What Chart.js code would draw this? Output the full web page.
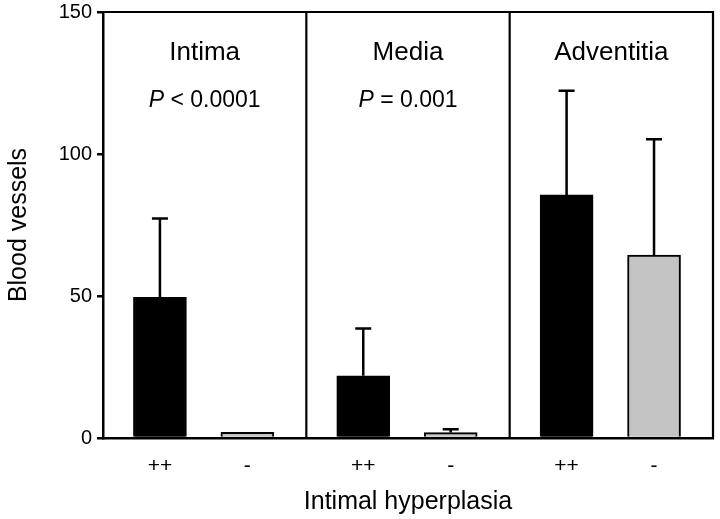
<!DOCTYPE html>
<html>
<head>
<meta charset="utf-8">
<script src="https://cdn.jsdelivr.net/npm/chart.js@4"></script>
<style>
  html, body { margin: 0; padding: 0; background: #fff; }
  #wrap { width: 720px; height: 519px; }
</style>
</head>
<body>
<div id="wrap"><canvas id="c" width="720" height="519"></canvas></div>
<script>
// ---- data ----
const groups = ['Intima', 'Media', 'Adventitia'];
const pLabels = ['< 0.0001', '= 0.001', ''];
const hyperplasia = ['++', '-'];
const meanPlus = [49.5, 21.9, 85.6];
const meanMinus = [2.0, 1.9, 64.4];
const sdPlus = [27.8, 16.7, 36.7];
const sdMinus = [0, 1.2, 40.8];
const yTicks = [0, 50, 100, 150];

const FONT = '"Liberation Sans", Arial, Helvetica, sans-serif';
const OFF = [0.28, 0.71];

const pos = (g, k) => g + OFF[k];
const tickPositions = [];
groups.forEach((g, i) => { tickPositions.push(pos(i, 0), pos(i, 1)); });

const dsPlus = groups.map((g, i) => ({ x: pos(i, 0), y: meanPlus[i] }));
const dsMinus = groups.map((g, i) => ({ x: pos(i, 1), y: meanMinus[i] }));
const errs = [sdPlus, sdMinus];
const means = [meanPlus, meanMinus];

const framePlugin = {
  id: 'frame',
  afterDatasetsDraw(chart) {
    const { ctx, chartArea: a, scales } = chart;
    const xs = scales.x, ys = scales.y;
    ctx.save();
    ctx.strokeStyle = '#000';
    ctx.lineWidth = 2.5;
    // error bars (upper only)
    chart.data.datasets.forEach((ds, di) => {
      const meta = chart.getDatasetMeta(di);
      meta.data.forEach((el, i) => {
        const sd = errs[di][i];
        if (!sd) return;
        const yTop = ys.getPixelForValue(means[di][i] + sd);
        ctx.beginPath();
        ctx.moveTo(el.x, el.y);
        ctx.lineTo(el.x, yTop);
        ctx.moveTo(el.x - 8, yTop);
        ctx.lineTo(el.x + 8, yTop);
        ctx.stroke();
      });
    });
    // frame: top, right, separators
    ctx.lineWidth = 2.2;
    ctx.beginPath();
    ctx.moveTo(a.left, a.top);
    ctx.lineTo(a.right, a.top);
    ctx.lineTo(a.right, a.bottom);
    for (let g = 1; g < groups.length; g++) {
      const x = xs.getPixelForValue(g);
      ctx.moveTo(x, a.top);
      ctx.lineTo(x, a.bottom);
    }
    ctx.stroke();
    // panel labels
    ctx.fillStyle = '#000';
    ctx.textBaseline = 'alphabetic';
    groups.forEach((name, g) => {
      const cx = xs.getPixelForValue(g + 0.5);
      ctx.font = '26px ' + FONT;
      ctx.textAlign = 'center';
      ctx.fillText(name, cx, a.top + 48);
      if (pLabels[g]) {
        ctx.font = 'italic 23px ' + FONT;
        const wP = ctx.measureText('P').width;
        ctx.font = '23px ' + FONT;
        const rest = ' ' + pLabels[g];
        const wR = ctx.measureText(rest).width;
        const x0 = cx - (wP + wR) / 2;
        ctx.textAlign = 'left';
        ctx.font = 'italic 23px ' + FONT;
        ctx.fillText('P', x0, a.top + 95);
        ctx.font = '23px ' + FONT;
        ctx.fillText(rest, x0 + wP, a.top + 95);
      }
    });
    ctx.restore();
  }
};

new Chart(document.getElementById('c'), {
  type: 'bar',
  data: {
    datasets: [
      { label: hyperplasia[0], data: dsPlus, backgroundColor: '#000', borderColor: '#000', borderWidth: 2 },
      { label: hyperplasia[1], data: dsMinus, backgroundColor: '#c4c4c4', borderColor: '#000', borderWidth: 2 }
    ]
  },
  options: {
    responsive: false,
    animation: false,
    events: [],
    layout: { padding: { left: 0, right: 7, top: 12, bottom: 0 } },
    datasets: { bar: { grouped: false, barThickness: 53, borderSkipped: 'bottom' } },
    plugins: { legend: { display: false }, tooltip: { enabled: false } },
    scales: {
      x: {
        type: 'linear',
        min: 0, max: groups.length,
        offset: false,
        grid: { display: true, drawOnChartArea: false, drawTicks: false, offset: false },
        border: { display: true, color: '#000', width: 2.5 },
        afterBuildTicks(axis) { axis.ticks = tickPositions.map(v => ({ value: v })); },
        afterFit(axis) { axis.height = 81; axis.paddingLeft = 0; axis.paddingRight = 0; },
        ticks: {
          autoSkip: false, maxRotation: 0, padding: 16, color: '#000',
          font: { family: FONT, size: 21 },
          callback: (v, i) => hyperplasia[i % 2]
        },
        title: {
          display: true, text: 'Intimal hyperplasia', color: '#000',
          font: { family: FONT, size: 25 }, padding: { top: 0, bottom: 2 }
        }
      },
      y: {
        min: 0, max: 150,
        afterBuildTicks(axis) { axis.ticks = yTicks.map(v => ({ value: v })); },
        afterFit(axis) { axis.width = 103; axis.paddingTop = 0; axis.paddingBottom = 0; },
        grid: { display: true, drawOnChartArea: false, drawTicks: true, tickLength: 6, color: '#000', lineWidth: 2.5 },
        border: { display: true, color: '#000', width: 2.5 },
        ticks: { padding: 5, color: '#000', font: { family: FONT, size: 20 } },
        title: {
          display: true, text: 'Blood vessels', color: '#000',
          font: { family: FONT, size: 25 }, padding: { top: 4, bottom: 0 }
        }
      }
    }
  },
  plugins: [framePlugin]
});
</script>
</body>
</html>
